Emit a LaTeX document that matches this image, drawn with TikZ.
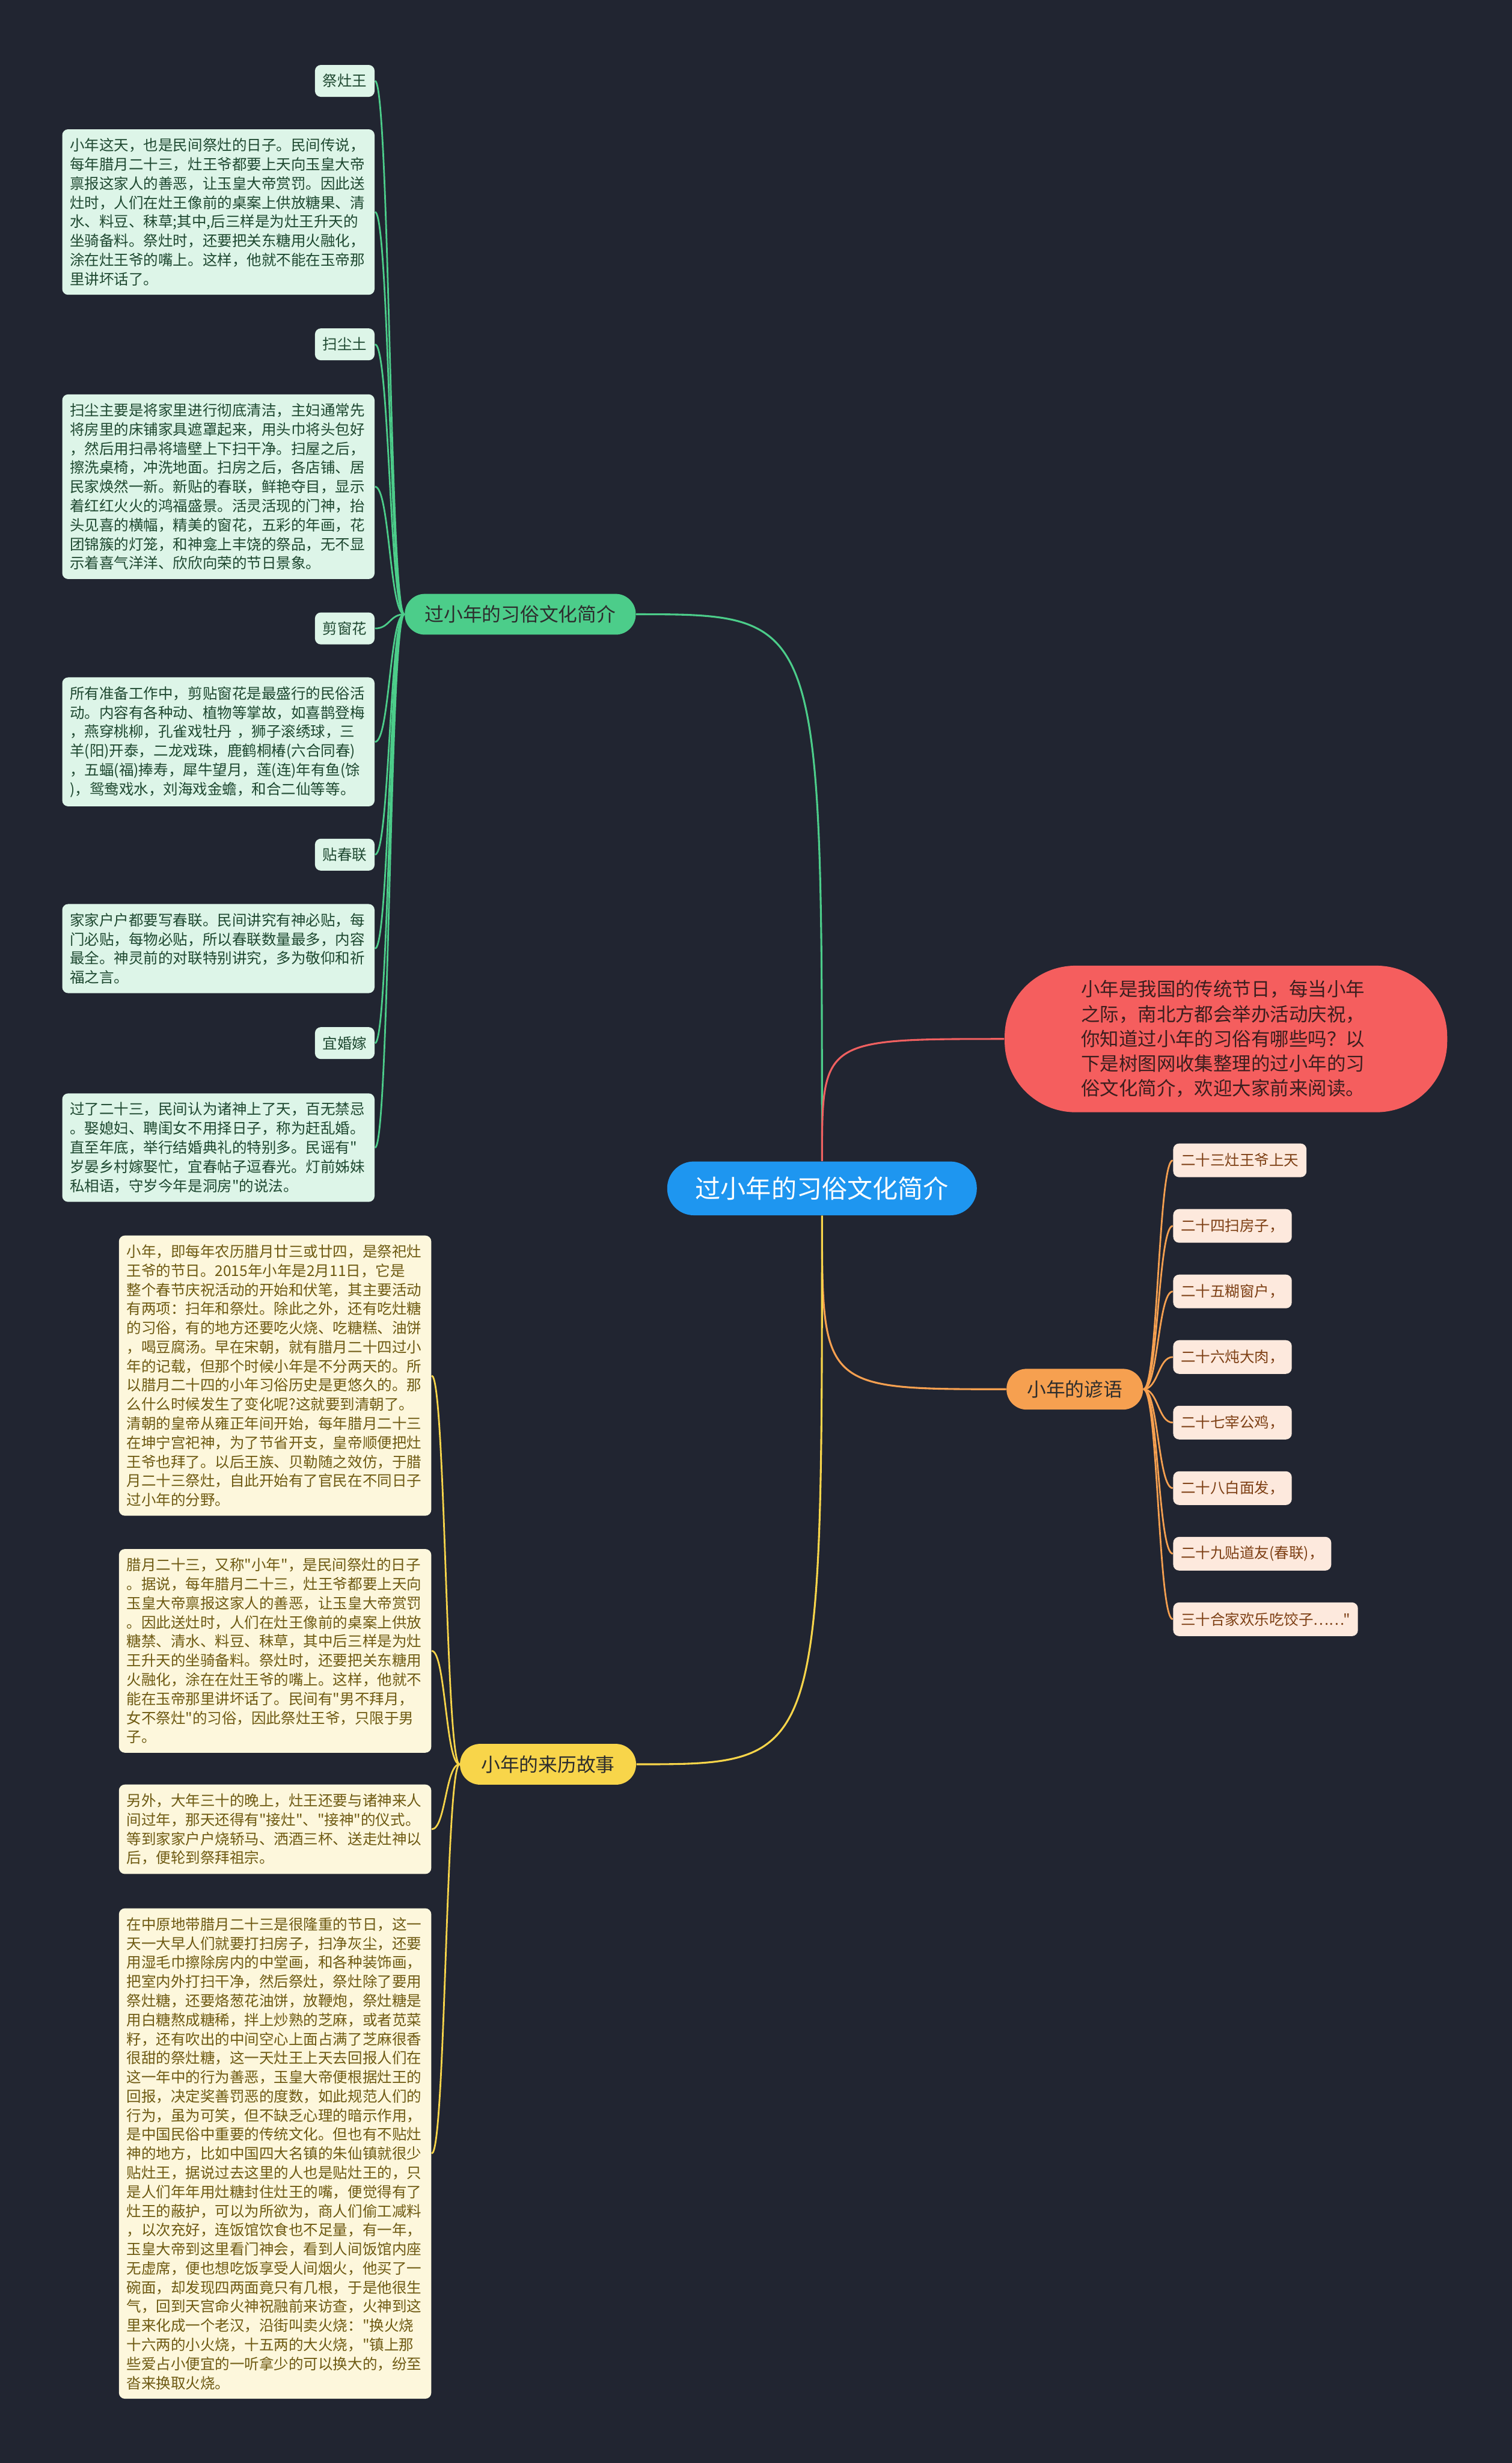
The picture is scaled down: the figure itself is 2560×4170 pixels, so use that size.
\documentclass[tikz,border=0pt]{standalone}
\usepackage{fontspec}
\newfontfamily\cjk{Noto Sans CJK SC}
\usetikzlibrary{calc}

\definecolor{bgdark}{RGB}{33,37,49}
\definecolor{rootblue}{RGB}{30,150,240}
\definecolor{branchtext}{RGB}{45,45,45}
\definecolor{mintline}{RGB}{76,205,138}
\definecolor{mintfill}{RGB}{221,245,232}
\definecolor{minttext}{RGB}{30,72,48}
\definecolor{redline}{RGB}{240,96,96}
\definecolor{redfill}{RGB}{245,94,94}
\definecolor{redtext}{RGB}{60,30,30}
\definecolor{peachline}{RGB}{246,160,80}
\definecolor{peachfill}{RGB}{253,233,221}
\definecolor{peachtext}{RGB}{125,63,20}
\definecolor{goldline}{RGB}{248,213,74}
\definecolor{creamfill}{RGB}{253,247,220}
\definecolor{creamtext}{RGB}{110,90,18}

\newcommand\bodysize{\fontsize{7.1pt}{9.2pt}\selectfont}
\newcommand\branchsize{\fontsize{9.2pt}{11pt}\selectfont}
\newcommand\introsize{\fontsize{9.1pt}{11.95pt}\selectfont}
\newcommand\rootsize{\fontsize{12.2pt}{14pt}\selectfont}

\begin{document}
\begin{tikzpicture}[x=0.01cm, y=-0.01cm,
    hub/.style={fill=rootblue, text=white, font=\cjk\rootsize,
        rounded corners=0.45cm, minimum width=5.24cm, minimum height=0.91cm},
    branch/.style={text=branchtext, font=\cjk\branchsize,
        rounded corners=0.34cm, minimum height=0.69cm},
    intro/.style={fill=redfill, text=redtext, font=\cjk\introsize,
        rounded corners=1.2cm, minimum width=7.49cm, minimum height=2.48cm,
        text width=4.9cm, align=left},
    leaf/.style={font=\cjk\bodysize, rounded corners=0.1cm,
        inner xsep=3.7pt, minimum height=0.54cm},
    note/.style={leaf, text width=143pt, align=left, inner ysep=4.35pt},
    mint/.style={fill=mintfill, text=minttext},
    peach/.style={fill=peachfill, text=peachtext, minimum height=0.57cm},
    cream/.style={fill=creamfill, text=creamtext},
    bough/.style={line width=0.9pt,
        to path={.. controls (\tikztostart |- \tikztotarget) .. (\tikztotarget)}},
    twig/.style={line width=0.8pt,
        to path={.. controls ($(\tikztostart)!0.5!(\tikztotarget |- \tikztostart)$)
            and ($(\tikztostart |- \tikztotarget)!0.5!(\tikztotarget)$) .. (\tikztotarget)}}
]
    % Canvas
    \useasboundingbox (0,0) rectangle (2560,4170);
    \fill [bgdark] (0,0) rectangle (2560,4170);

    % Root
    \node [hub] (hub) at (1392,2012) {过小年的习俗文化简介};
    \node [intro] (intro) at (2076,1759)
        {小年是我国的传统节日，每当小年\\之际，南北方都会举办活动庆祝，\\你知道过小年的习俗有哪些吗？以\\下是树图网收集整理的过小年的习\\俗文化简介，欢迎大家前来阅读。};

    % Branches
    \node [branch, fill=mintline, minimum width=3.91cm] (custom) at (881,1040) {过小年的习俗文化简介};
    \node [branch, fill=peachline, minimum width=2.31cm] (saying) at (1820,2352) {小年的谚语};
    \node [branch, fill=goldline, minimum width=2.98cm] (origin) at (928,2987) {小年的来历故事};

    \draw [bough, mintline] (hub.north) to (custom.east);
    \draw [bough, redline] (hub.north) to (intro.west);
    \draw [bough, peachline] (hub.south) to (saying.west);
    \draw [bough, goldline] (hub.south) to (origin.east);

    % Customs
    %% Titles
    \node [leaf, mint, anchor=east] (zao) at (635,137) {祭灶王};
    \node [leaf, mint, anchor=east] (dust) at (635,583) {扫尘土};
    \node [leaf, mint, anchor=east] (cut) at (635,1064) {剪窗花};
    \node [leaf, mint, anchor=east] (couplet) at (635,1447) {贴春联};
    \node [leaf, mint, anchor=east] (wed) at (635,1766) {宜婚嫁};
    %% Texts
    \node [note, mint, anchor=east] (zaotext) at (635,359)
        {小年这天，也是民间祭灶的日子。民间传说，\\每年腊月二十三，灶王爷都要上天向玉皇大帝\\禀报这家人的善恶，让玉皇大帝赏罚。因此送\\灶时，人们在灶王像前的桌案上供放糖果、清\\水、料豆、秣草;其中,后三样是为灶王升天的\\坐骑备料。祭灶时，还要把关东糖用火融化，\\涂在灶王爷的嘴上。这样，他就不能在玉帝那\\里讲坏话了。};
    \node [note, mint, anchor=east] (dusttext) at (635,824)
        {扫尘主要是将家里进行彻底清洁，主妇通常先\\将房里的床铺家具遮罩起来，用头巾将头包好\\，然后用扫帚将墙壁上下扫干净。扫屋之后，\\擦洗桌椅，冲洗地面。扫房之后，各店铺、居\\民家焕然一新。新贴的春联，鲜艳夺目，显示\\着红红火火的鸿福盛景。活灵活现的门神，抬\\头见喜的横幅，精美的窗花，五彩的年画，花\\团锦簇的灯笼，和神龛上丰饶的祭品，无不显\\示着喜气洋洋、欣欣向荣的节日景象。};
    \node [note, mint, anchor=east] (cuttext) at (635,1256)
        {所有准备工作中，剪贴窗花是最盛行的民俗活\\动。内容有各种动、植物等掌故，如喜鹊登梅\\，燕穿桃柳，孔雀戏牡丹 ，狮子滚绣球，三\\羊(阳)开泰，二龙戏珠，鹿鹤桐椿(六合同春)\\，五蝠(福)捧寿，犀牛望月，莲(连)年有鱼(馀\\)，鸳鸯戏水，刘海戏金蟾，和合二仙等等。};
    \node [note, mint, anchor=east] (couplettext) at (635,1606)
        {家家户户都要写春联。民间讲究有神必贴，每\\门必贴，每物必贴，所以春联数量最多，内容\\最全。神灵前的对联特别讲究，多为敬仰和祈\\福之言。};
    \node [note, mint, anchor=east] (wedtext) at (635,1943)
        {过了二十三，民间认为诸神上了天，百无禁忌\\。娶媳妇、聘闺女不用择日子，称为赶乱婚。\\直至年底，举行结婚典礼的特别多。民谣有"\\岁晏乡村嫁娶忙，宜春帖子逗春光。灯前姊妹\\私相语，守岁今年是洞房"的说法。};
    %% Links
    \foreach \leafname in {zao, zaotext, dust, dusttext, cut, cuttext,
        couplet, couplettext, wed, wedtext}
        \draw [twig, mintline] (custom.west) to (\leafname.east);

    % Sayings
    \foreach \saytext [count=\i] in {二十三灶王爷上天, 二十四扫房子，, 二十五糊窗户，,
        二十六炖大肉，, 二十七宰公鸡，, 二十八白面发，, 二十九贴道友(春联)，,
        三十合家欢乐吃饺子……"} {
        \node [leaf, peach, anchor=west] (say\i) at (1986, {1964.5+111*(\i-1)}) {\saytext};
        \draw [twig, peachline] (saying.east) to (say\i.west);
    }

    % Origin stories
    \node [note, cream, anchor=east] (story1) at (731,2329)
        {小年，即每年农历腊月廿三或廿四，是祭祀灶\\王爷的节日。2015年小年是2月11日，它是\\整个春节庆祝活动的开始和伏笔，其主要活动\\有两项：扫年和祭灶。除此之外，还有吃灶糖\\的习俗，有的地方还要吃火烧、吃糖糕、油饼\\，喝豆腐汤。早在宋朝，就有腊月二十四过小\\年的记载，但那个时候小年是不分两天的。所\\以腊月二十四的小年习俗历史是更悠久的。那\\么什么时候发生了变化呢?这就要到清朝了。\\清朝的皇帝从雍正年间开始，每年腊月二十三\\在坤宁宫祀神，为了节省开支，皇帝顺便把灶\\王爷也拜了。以后王族、贝勒随之效仿，于腊\\月二十三祭灶，自此开始有了官民在不同日子\\过小年的分野。};
    \node [note, cream, anchor=east] (story2) at (731,2795)
        {腊月二十三，又称"小年"，是民间祭灶的日子\\。据说，每年腊月二十三，灶王爷都要上天向\\玉皇大帝禀报这家人的善恶，让玉皇大帝赏罚\\。因此送灶时，人们在灶王像前的桌案上供放\\糖禁、清水、料豆、秣草，其中后三样是为灶\\王升天的坐骑备料。祭灶时，还要把关东糖用\\火融化，涂在在灶王爷的嘴上。这样，他就不\\能在玉帝那里讲坏话了。民间有"男不拜月，\\女不祭灶"的习俗，因此祭灶王爷，只限于男\\子。};
    \node [note, cream, anchor=east] (story3) at (731,3097)
        {另外，大年三十的晚上，灶王还要与诸神来人\\间过年，那天还得有"接灶"、"接神"的仪式。\\等到家家户户烧轿马、洒酒三杯、送走灶神以\\后，便轮到祭拜祖宗。};
    \node [note, cream, anchor=east] (story4) at (731,3646)
        {在中原地带腊月二十三是很隆重的节日，这一\\天一大早人们就要打扫房子，扫净灰尘，还要\\用湿毛巾擦除房内的中堂画，和各种装饰画，\\把室内外打扫干净，然后祭灶，祭灶除了要用\\祭灶糖，还要烙葱花油饼，放鞭炮，祭灶糖是\\用白糖熬成糖稀，拌上炒熟的芝麻，或者苋菜\\籽，还有吹出的中间空心上面占满了芝麻很香\\很甜的祭灶糖，这一天灶王上天去回报人们在\\这一年中的行为善恶，玉皇大帝便根据灶王的\\回报，决定奖善罚恶的度数，如此规范人们的\\行为，虽为可笑，但不缺乏心理的暗示作用，\\是中国民俗中重要的传统文化。但也有不贴灶\\神的地方，比如中国四大名镇的朱仙镇就很少\\贴灶王，据说过去这里的人也是贴灶王的，只\\是人们年年用灶糖封住灶王的嘴，便觉得有了\\灶王的蔽护，可以为所欲为，商人们偷工减料\\，以次充好，连饭馆饮食也不足量，有一年，\\玉皇大帝到这里看门神会，看到人间饭馆内座\\无虚席，便也想吃饭享受人间烟火，他买了一\\碗面，却发现四两面竟只有几根，于是他很生\\气，回到天宫命火神祝融前来访查，火神到这\\里来化成一个老汉，沿街叫卖火烧："换火烧\\十六两的小火烧，十五两的大火烧，"镇上那\\些爱占小便宜的一听拿少的可以换大的，纷至\\沓来换取火烧。};
    %% Links
    \foreach \leafname in {story1, story2, story3, story4}
        \draw [twig, goldline] (origin.west) to (\leafname.east);
\end{tikzpicture}
\end{document}
